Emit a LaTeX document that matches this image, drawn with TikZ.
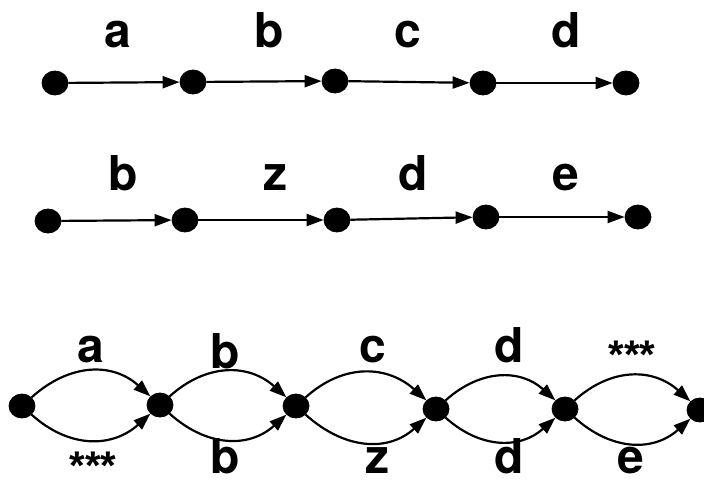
\documentclass[tikz,border=0pt]{standalone}
\usepackage{fontspec}
\setmainfont{TeX Gyre Heros}
\newfontfamily\starfont{Liberation Sans}
\usepackage{tikz}
\usetikzlibrary{arrows.meta,shapes.geometric}
\tikzset{
  dot/.style={ellipse,draw,fill=black,minimum width=13pt,minimum height=12pt,inner sep=0pt},
  lab/.style={anchor=base,inner sep=0pt,font=\bfseries\fontsize{24}{27}\selectfont},
  stars/.style={inner sep=0pt,font=\starfont\bfseries\fontsize{20}{24}\selectfont},
  arr/.style={-{Triangle[length=8.5pt,width=6pt]},line width=1.1pt},
  hump/.style={out=42,in=138,looseness=1.1},
  dip/.style={out=-42,in=-138,looseness=1.1},
}

\begin{document}
\begin{tikzpicture}[x=0.5pt,y=0.5pt]
  \useasboundingbox (0,0) rectangle (704,483);
  % first string
  \node[dot] (v1) at (55,400) {};
  \node[dot] (v2) at (193,401) {};
  \node[dot] (v3) at (335,402) {};
  \node[dot] (v4) at (483,400) {};
  \node[dot] (v5) at (626,400) {};
  \draw[arr] (v1) -- (v2); \draw[arr] (v2) -- (v3);
  \draw[arr] (v3) -- (v4); \draw[arr] (v4) -- (v5);
  \node[lab] (la) at (118,436) {a};
  \node[lab] (lb) at (269,436) {b};
  \node[lab] (lc) at (408,436) {c};
  \node[lab] (ld) at (566,436) {d};
  % second string
  \node[dot] (w1) at (48,262) {};
  \node[dot] (w2) at (185,263) {};
  \node[dot] (w3) at (337,263) {};
  \node[dot] (w4) at (486,266) {};
  \node[dot] (w5) at (638,266) {};
  \draw[arr] (w1) -- (w2); \draw[arr] (w2) -- (w3);
  \draw[arr] (w3) -- (w4); \draw[arr] (w4) -- (w5);
  \node[lab] (mb) at (123,293) {b};
  \node[lab] (mz) at (275,293) {z};
  \node[lab] (md) at (413,293) {d};
  \node[lab] (me) at (566,293) {e};
  % merged lattice
  \node[dot] (u1) at (22,77) {};
  \node[dot] (u2) at (160,78) {};
  \node[dot] (u3) at (296,77) {};
  \node[dot] (u4) at (436,74) {};
  \node[dot] (u5) at (565,74) {};
  \node[dot] (u6) at (700,73) {};
  \draw[arr] (u1) to[hump] (u2); \draw[arr] (u1) to[dip] (u2);
  \draw[arr] (u2) to[hump] (u3); \draw[arr] (u2) to[dip] (u3);
  \draw[arr] (u3) to[hump] (u4); \draw[arr] (u3) to[dip] (u4);
  \draw[arr] (u4) to[hump] (u5); \draw[arr] (u4) to[dip] (u5);
  \draw[arr] (u5) to[hump] (u6); \draw[arr] (u5) to[dip] (u6);
  \node[lab] (ta) at (91,121) {a};
  \node[lab] (tb) at (225,115) {b};
  \node[lab] (tc) at (373,121) {c};
  \node[lab] (td) at (509,121) {d};
  \node[stars] (ts) at (632,128) {***};
  \node[stars] (bs) at (93,17) {***};
  \node[lab] (bb) at (225,10) {b};
  \node[lab] (bz) at (377,10) {z};
  \node[lab] (bd) at (509,10) {d};
  \node[lab] (be) at (631,10) {e};
\end{tikzpicture}
\end{document}
